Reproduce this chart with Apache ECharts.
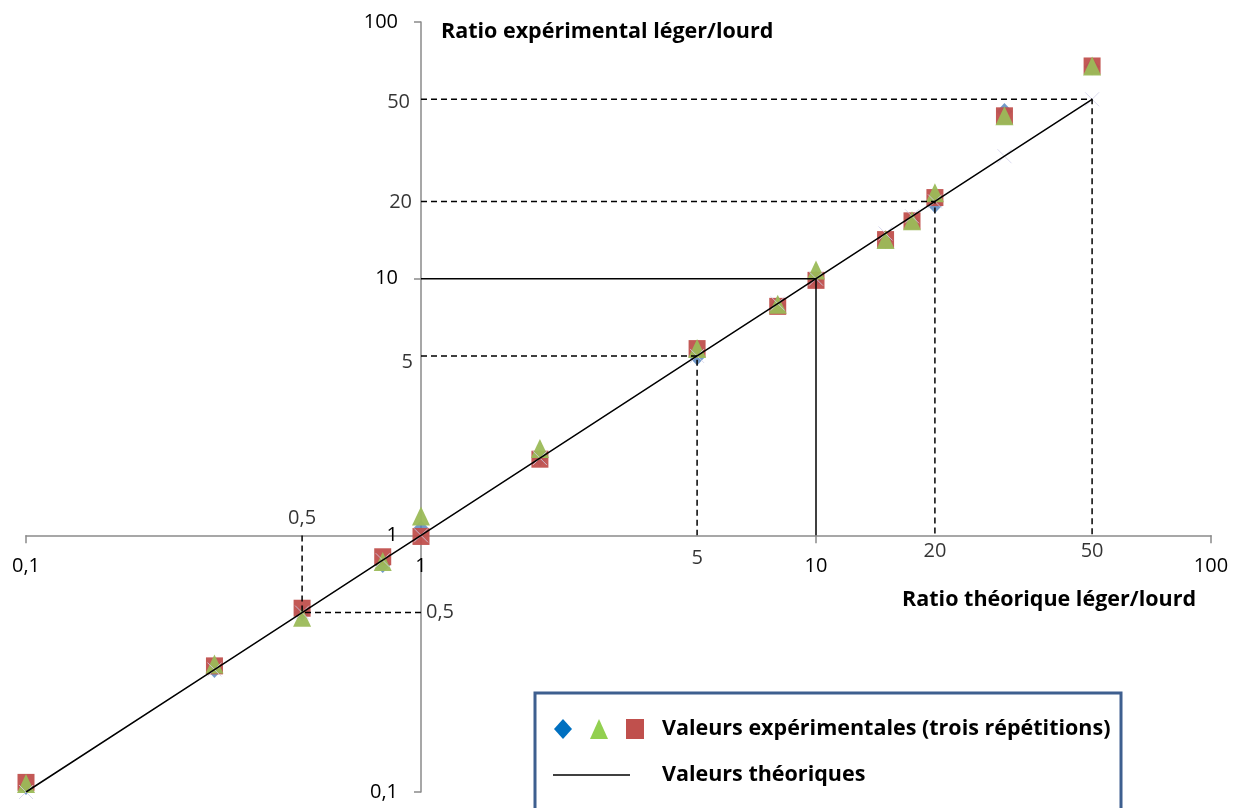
<!DOCTYPE html>
<html><head><meta charset="utf-8">
<script src="https://cdn.jsdelivr.net/npm/echarts@6/dist/echarts.min.js"></script>
<style>html,body{margin:0;padding:0;background:#fff}#c{width:1240px;height:808px}</style>
</head><body><div id="c"></div>
<script>
// ---------- data ----------
const theoreticalRatios = [0.1, 0.3, 0.5, 0.8, 1, 2, 5, 8, 10, 15, 17.5, 20, 30, 50];
const rep1 = [0.105, 0.30, 0.50, 0.77, 1.06, 2.0, 4.95, 7.9, 10.0, 14.1, 16.8, 19.4, 44.8, 67];
const rep2 = [0.108, 0.315, 0.48, 0.79, 1.19, 2.18, 5.34, 7.95, 10.8, 14.2, 16.8, 21.6, 43.1, 67.4];
const rep3 = [0.109, 0.31, 0.52, 0.825, 0.99, 1.98, 5.34, 7.8, 9.85, 14.2, 16.8, 20.7, 43.1, 67.4];
const seriesNames = ['Répétition 1', 'Répétition 2', 'Répétition 3'];
const legendExpText = 'Valeurs expérimentales (trois répétitions)';
const theoName = 'Valeurs théoriques';
const refValues = [0.5, 5, 10, 20, 50];
const solidRefValues = [10];
const extraTickValues = [0.5, 5, 20, 50];
const extraTickLabels = ['0,5', '5', '20', '50'];
const xTitle = 'Ratio théorique léger/lourd';
const yTitle = 'Ratio expérimental léger/lourd';

// ---------- layout / style ----------
const FONT = '"Open Sans", Lato, sans-serif';
const NUM_SIZE = 20;
const G = {left: 26, top: 22, width: 1185, height: 770};
const AXIS_COLOR = '#8a8a8a';
const xExtraOffsets = [[0, -17], [0, 23], [0, 16], [0, 16]];
const yExtraStyle = [
  {align: 'left', offset: [5, 0]},
  {align: 'right', offset: [-8, 6]},
  {align: 'right', offset: [-9, 1]},
  {align: 'right', offset: [-11, 3]}
];
const plotColors = ['#4f81bd', '#9bbb59', '#c0504d'];
const legendColors = ['#0070c0', '#92d050', '#c0504d'];

const fmt = v => String(Number(Number(v).toPrecision(6))).replace('.', ',');
const zip = (xs, ys) => xs.map((x, i) => [x, ys[i]]);

const series = [];
// experimental markers: diamond (bottom), square, triangle (top)
series.push({name: seriesNames[0], type: 'scatter', symbol: 'diamond', symbolSize: [16, 17],
  itemStyle: {color: plotColors[0]}, data: zip(theoreticalRatios, rep1), z: 2});
series.push({name: seriesNames[2], type: 'scatter', symbol: 'rect', symbolSize: 17,
  itemStyle: {color: plotColors[2], opacity: 0.95}, data: zip(theoreticalRatios, rep3), z: 2});
series.push({name: seriesNames[1], type: 'scatter', symbol: 'triangle', symbolSize: [18, 19],
  itemStyle: {color: plotColors[1], opacity: 0.95}, data: zip(theoreticalRatios, rep2), z: 2});
// faint markers of theoretical values
series.push({name: 'points théoriques', type: 'scatter', symbol: 'path://M0,0L10,10M10,0L0,10',
  symbolSize: 14, itemStyle: {color: 'none', borderColor: '#cfcfe8', borderWidth: 1},
  data: theoreticalRatios.map(v => [v, v]), z: 3, silent: true});
// reference lines
refValues.forEach(v => {
  series.push({type: 'line', silent: true, symbol: 'none', z: 4,
    lineStyle: {color: '#000', width: 1.5, type: solidRefValues.includes(v) ? 'solid' : [6, 4]},
    data: [[1, v], [v, v], [v, 1]]});
});
// theoretical line
series.push({name: theoName, type: 'line', symbol: 'none', z: 5,
  lineStyle: {color: '#000', width: 1.5}, itemStyle: {color: '#000'},
  data: theoreticalRatios.map(v => [v, v])});
// extra tick labels on x-axis
series.push({type: 'scatter', silent: true, symbolSize: 1, itemStyle: {color: 'transparent'}, z: 6,
  data: extraTickValues.map((v, i) => ({value: [v, 1],
    label: {show: true, position: 'inside', offset: xExtraOffsets[i], formatter: extraTickLabels[i],
      fontSize: NUM_SIZE, fontFamily: FONT, color: '#000'}}))});
// extra tick labels on y-axis
series.push({type: 'scatter', silent: true, symbolSize: 1, itemStyle: {color: 'transparent'}, z: 6,
  data: extraTickValues.map((v, i) => ({value: [1, v],
    label: {show: true, position: 'inside', align: yExtraStyle[i].align, offset: yExtraStyle[i].offset,
      formatter: extraTickLabels[i], fontSize: NUM_SIZE, fontFamily: FONT, color: '#000'}}))});

const axisCommon = {
  type: 'log', logBase: 10, min: 0.1, max: 100,
  axisLine: {show: true, onZero: false, lineStyle: {color: AXIS_COLOR, width: 1.5}},
  splitLine: {show: false}, minorTick: {show: false},
  axisLabel: {fontSize: NUM_SIZE, fontFamily: FONT, color: '#000', formatter: fmt, showMinLabel: true, showMaxLabel: true}
};

const boldText = {fontFamily: FONT, fontWeight: 'bold', fontSize: 21.5, color: '#000'};

const option = {
  animation: false,
  backgroundColor: '#fff',
  grid: Object.assign({containLabel: false, outerBoundsMode: 'none'}, G),
  title: [
    {text: yTitle, left: 441, top: 21, padding: 0, textStyle: boldText},
    {text: xTitle, right: 44, top: 589, padding: 0, textStyle: boldText}
  ],
  xAxis: Object.assign({}, axisCommon, {position: 'bottom', offset: -G.height / 3,
    axisTick: {show: true, length: 8, lineStyle: {color: AXIS_COLOR, width: 1.5}},
    axisLabel: Object.assign({}, axisCommon.axisLabel, {margin: 21})}),
  yAxis: Object.assign({}, axisCommon, {position: 'left', offset: -G.width / 3,
    axisTick: {show: true, length: 7, lineStyle: {color: AXIS_COLOR, width: 1.5}},
    axisLabel: Object.assign({}, axisCommon.axisLabel, {margin: 23})}),
  graphic: [{type: 'rect', z: 10, shape: {x: 535, y: 693, width: 586, height: 140},
    style: {fill: '#fff', stroke: '#3e5f8f', lineWidth: 3}}],
  legend: [
    {left: 554, top: 718, orient: 'horizontal', itemWidth: 18, itemHeight: 20, itemGap: 18, z: 20,
      selectedMode: false, padding: 0,
      data: [
        {name: seriesNames[0], icon: 'diamond', itemStyle: {color: legendColors[0], opacity: 1}},
        {name: seriesNames[1], icon: 'triangle', itemStyle: {color: legendColors[1], opacity: 1}},
        {name: seriesNames[2], icon: 'rect', itemStyle: {color: legendColors[2], opacity: 1}}
      ],
      formatter: n => n === seriesNames[2] ? '{s|}' + legendExpText : '',
      textStyle: Object.assign({}, boldText, {rich: {s: {width: 13}}})},
    {left: 553, top: 764, orient: 'horizontal', itemWidth: 77, itemHeight: 1.5, z: 20,
      selectedMode: false, padding: 0,
      data: [{name: theoName, icon: 'rect', itemStyle: {color: '#000', borderWidth: 0}}],
      formatter: n => '{s|}' + n,
      textStyle: Object.assign({}, boldText, {rich: {s: {width: 27}}})}
  ],
  series: series
};

const chart = echarts.init(document.getElementById('c'), null, {renderer: 'canvas'});
chart.setOption(option);
</script>
</body></html>
